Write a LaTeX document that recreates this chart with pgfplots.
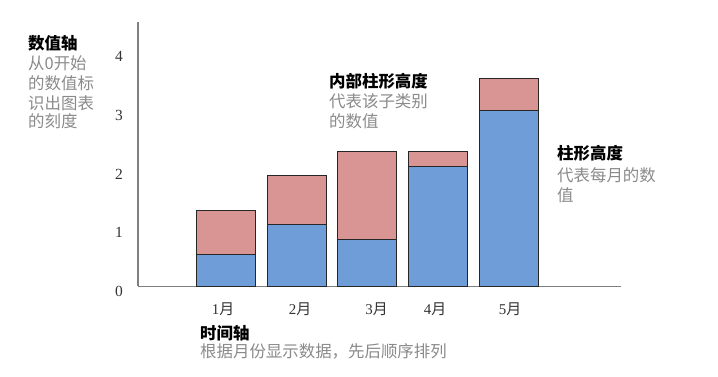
\documentclass[border=0pt]{standalone}
\usepackage{fontspec}
\setmainfont{Liberation Serif}
\newfontfamily\cjk{Noto Sans CJK SC}
\usepackage{pgfplots}
\pgfplotsset{compat=1.18}
\definecolor{barblue}{HTML}{6E9DD8}
\definecolor{barpink}{HTML}{D99594}
\definecolor{axgray}{HTML}{7F7F7F}
\definecolor{txtgray}{HTML}{8A8A8A}
\newcommand{\tl}[3]{\node[anchor=west,inner sep=0pt] at (#1bp,{377bp-#2bp}) {#3};}
\begin{document}
\begin{tikzpicture}
\path[use as bounding box] (0,0) rectangle (718bp,377bp);
\begin{axis}[
  at={(138bp,90.5bp)}, anchor=south west,
  scale only axis, width=483bp, height=264.5bp,
  xmin=-1.245, xmax=5.59, ymin=0, ymax=4.51,
  axis x line=bottom, axis y line=left,
  axis line style={-, axgray, line width=1.5bp},
  major tick length=0pt,
  ytick={0,1,2,3,4},
  xtick={-0.04,1.05,2.13,2.96,4.02},
  xticklabels={{1{\cjk 月}},{2{\cjk 月}},{3{\cjk 月}},{4{\cjk 月}},{5{\cjk 月}}},
  xticklabel style={anchor=center, yshift=-22.5bp, font=\fontsize{15}{17}\selectfont, text=black!80},
  yticklabel style={anchor=center, xshift=-19bp, yshift=-5bp, font=\fontsize{15.5}{17}\selectfont, text=black!80},
  /pgf/number format/assume math mode=true,
  ybar stacked, bar width=0.835,
  clip=false,
]
\addplot[fill=barblue, draw=black!85, line width=1bp] coordinates {(0,0.55) (1,1.05) (2,0.8) (3,2.05) (4,3.0)};
\addplot[fill=barpink, draw=black!85, line width=1bp] coordinates {(0,0.75) (1,0.85) (2,1.5) (3,0.25) (4,0.55)};
\end{axis}
\begin{scope}[font=\cjk\fontsize{16.5}{19}\selectfont]
\tl{28}{43.3}{\bfseries 数值轴}
\tl{28}{63.3}{\color{txtgray}从0开始}
\tl{28}{83.3}{\color{txtgray}的数值标}
\tl{28}{103.3}{\color{txtgray}识出图表}
\tl{28}{121.7}{\color{txtgray}的刻度}
\tl{329}{81.7}{\bfseries 内部柱形高度}
\tl{329}{101.7}{\color{txtgray}代表该子类别}
\tl{329}{121.7}{\color{txtgray}的数值}
\tl{557}{153.3}{\bfseries 柱形高度}
\tl{557}{175}{\color{txtgray}代表每月的数}
\tl{557}{195}{\color{txtgray}值}
\tl{200}{333.3}{\bfseries 时间轴}
\tl{200}{351.7}{\color{txtgray}根据月份显示数据，先后顺序排列}
\end{scope}
\end{tikzpicture}
\end{document}
